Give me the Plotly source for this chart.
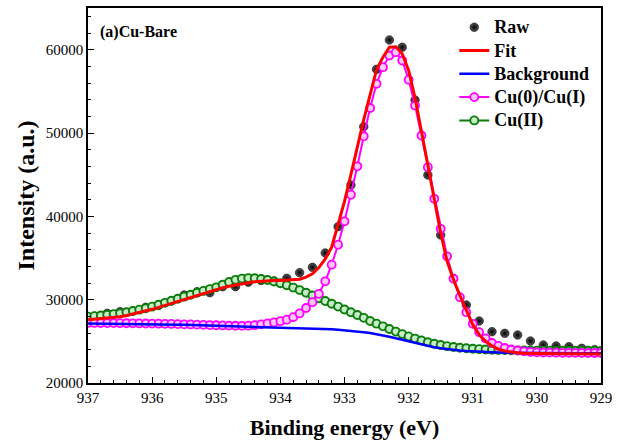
import plotly.graph_objects as go

# ---------------- data ----------------
raw_energy = [936.9, 936.7, 936.5, 936.3, 936.1, 935.9, 935.7, 935.5, 935.3, 935.1,
              934.9, 934.7, 934.5, 934.3, 934.1, 933.9, 933.7, 933.5, 933.3, 933.1,
              932.9, 932.7, 932.5, 932.3, 932.1, 931.9, 931.7, 931.5, 931.3, 931.1,
              930.9, 930.7, 930.5, 930.3, 930.1, 929.9, 929.7, 929.5, 929.3, 929.1]
raw_intensity = [28000, 28360, 28560, 28640, 29080, 29300, 29850, 30560, 30950, 30840,
                 31560, 31560, 32100, 32300, 32250, 32560, 33240, 33880, 35600, 38760,
                 43760, 50760, 57640, 61160, 60280, 53960, 44960, 37760, 32560, 29360,
                 27440, 26160, 25960, 25760, 25040, 24560, 24440, 24360, 24160, 24000]

fit_energy = [937.0, 936.9, 936.8, 936.7, 936.6, 936.5, 936.4, 936.3, 936.2, 936.1,
              936.0, 935.9, 935.8, 935.7, 935.6, 935.5, 935.4, 935.3, 935.2, 935.1,
              935.0, 934.9, 934.8, 934.7, 934.6, 934.5, 934.4, 934.3, 934.2, 934.1,
              934.0, 933.9, 933.8, 933.7, 933.6, 933.5, 933.4, 933.3, 933.2, 933.1,
              933.0, 932.9, 932.8, 932.7, 932.6, 932.5, 932.4, 932.3, 932.2, 932.1,
              932.0, 931.9, 931.8, 931.7, 931.6, 931.5, 931.4, 931.3, 931.2, 931.1,
              931.0, 930.9, 930.8, 930.7, 930.6, 930.5, 930.4, 930.3, 930.2, 930.1,
              930.0, 929.9, 929.8, 929.7, 929.6, 929.5, 929.4, 929.3, 929.2, 929.1,
              929.0]

fit_total = [27600, 27660, 27730, 27800, 27880, 27960, 28110, 28280, 28460, 28650,
             28840, 29080, 29320, 29560, 29800, 30040, 30280, 30520, 30760, 31000,
             31240, 31430, 31600, 31760, 31900, 32040, 32140, 32220, 32270, 32290,
             32300, 32320, 32380, 32450, 32700, 33100, 33850, 34900, 36300, 38900,
             41800, 45000, 48400, 51600, 54600, 57600, 59100, 60300, 60350, 59500,
             57500, 54200, 50200, 46100, 42000, 38000, 34600, 32400, 30500, 28800,
             27000, 25800, 25000, 24450, 24080, 23850, 23700, 23620, 23570, 23540,
             23520, 23510, 23505, 23500, 23497, 23494, 23491, 23488, 23486, 23484,
             23482]

background = [27150, 27145, 27140, 27135, 27130, 27120, 27110, 27100, 27090, 27080,
              27070, 27055, 27040, 27025, 27005, 26985, 26965, 26945, 26920, 26895,
              26870, 26845, 26820, 26795, 26770, 26745, 26720, 26695, 26670, 26645,
              26620, 26600, 26580, 26560, 26540, 26520, 26500, 26475, 26445, 26400,
              26340, 26270, 26190, 26100, 25995, 25870, 25720, 25550, 25370, 25180,
              24990, 24800, 24620, 24450, 24300, 24170, 24060, 23970, 23900, 23840,
              23790, 23750, 23715, 23685, 23660, 23640, 23625, 23610, 23600, 23590,
              23585, 23580, 23577, 23574, 23571, 23568, 23566, 23564, 23562, 23561,
              23560]

cu0_cu1 = [27210, 27205, 27200, 27195, 27190, 27180, 27170, 27160, 27150, 27140,
           27130, 27115, 27100, 27085, 27065, 27045, 27025, 27005, 26980, 26955,
           26930, 26910, 26890, 26870, 26860, 26880, 26940, 27040, 27150, 27280,
           27420, 27600, 27900, 28350, 29000, 29700, 30700, 32200, 34200, 36600,
           39400, 42600, 46000, 49600, 53000, 55900, 57900, 59300, 59700, 58700,
           56400, 53300, 49700, 45900, 42100, 38500, 35200, 32500, 30300, 28500,
           27100, 26100, 25350, 24800, 24450, 24200, 24020, 23900, 23800, 23730,
           23680, 23660, 23645, 23635, 23625, 23618, 23612, 23607, 23603, 23600,
           23598]

cu2 = [27960, 28025, 28100, 28185, 28270, 28360, 28490, 28640, 28800, 28975,
       29160, 29385, 29620, 29865, 30110, 30360, 30595, 30825, 31050, 31270,
       31480, 31795, 32120, 32375, 32530, 32585, 32564, 32486, 32359, 32185,
       31969, 31722, 31446, 31147, 30832, 30506, 30176, 29841, 29506, 29167,
       28825, 28488, 28158, 27820, 27445, 27120, 26800, 26480, 26170, 25870,
       25590, 25330, 25095, 24885, 24705, 24555, 24425, 24320, 24235, 24165,
       24105, 24060, 24025, 23995, 23970, 23948, 23932, 23916, 23905, 23894,
       23888, 23882, 23879, 23875, 23872, 23868, 23866, 23864, 23862, 23861,
       23860]

series_names = ["Raw", "Fit", "Background", "Cu(0)/Cu(I)", "Cu(II)"]
x_tick_vals = [937, 936, 935, 934, 933, 932, 931, 930, 929]
y_tick_vals = [20000, 30000, 40000, 50000, 60000]

FONT = "Times New Roman"


def legend_label(name):
    # rendered at 18px while the legend row spacing is computed from a smaller size
    return "<span style='font-size:18px'>" + name + "</span>"


fig = go.Figure()

fig.add_trace(go.Scatter(
    x=raw_energy, y=raw_intensity, mode="markers", name=legend_label(series_names[0]),
    legendrank=1,
    marker=dict(size=8.5, color="#5a5a5a",
                gradient=dict(type="radial", color="#000000"),
                line=dict(width=0.6, color="#000000")),
))
fig.add_trace(go.Scatter(
    x=fit_energy, y=cu2, mode="lines+markers", name=legend_label(series_names[4]),
    legendrank=5,
    line=dict(color="#0b7d0b", width=2),
    marker=dict(size=8, color="#c8ecc8",
                line=dict(width=1.9, color="#0b7d0b")),
))
fig.add_trace(go.Scatter(
    x=fit_energy, y=cu0_cu1, mode="lines+markers", name=legend_label(series_names[3]),
    legendrank=4,
    line=dict(color="#ff00ff", width=2),
    marker=dict(size=8, color="#ffc8ff",
                line=dict(width=1.8, color="#ff00ff")),
))
fig.add_trace(go.Scatter(
    x=fit_energy, y=background, mode="lines", name=legend_label(series_names[2]),
    legendrank=3,
    line=dict(color="#0000ff", width=2.5),
))
fig.add_trace(go.Scatter(
    x=fit_energy, y=fit_total, mode="lines", name=legend_label(series_names[1]),
    legendrank=2,
    line=dict(color="#ff0000", width=3),
))

axis_common = dict(
    showline=True, linecolor="black", linewidth=1.5, mirror=True,
    showgrid=False, zeroline=False,
    ticks="inside", tickcolor="black", tickwidth=1.2,
    tickfont=dict(family=FONT, size=15, color="black"),
)

fig.update_xaxes(
    **axis_common,
    range=[937, 929], tickmode="array", tickvals=x_tick_vals,
    ticktext=[str(v) for v in x_tick_vals], ticklen=6,
    minor=dict(ticks="inside", dtick=0.2, ticklen=3, tickcolor="black", tickwidth=1),
    title=dict(text="<b>Binding energy (eV)</b>", standoff=15,
               font=dict(family=FONT, size=22, color="black")),
)
fig.update_yaxes(
    **axis_common,
    range=[20000, 65000], tickmode="array", tickvals=y_tick_vals,
    ticktext=[str(v) for v in y_tick_vals], ticklen=6,
    minor=dict(ticks="inside", dtick=2000, tick0=20000, ticklen=3, tickcolor="black", tickwidth=1),
    title=dict(text="<b>Intensity (a.u.)</b>", standoff=4,
               font=dict(family=FONT, size=24, color="black")),
)

fig.add_annotation(
    x=0.02, y=0.935, xref="paper", yref="paper", xanchor="left", yanchor="middle",
    text="<b>(a)Cu-Bare</b>", showarrow=False,
    font=dict(family=FONT, size=16, color="black"),
)

fig.update_layout(
    template="none",
    font=dict(family=FONT, color="black"),
    width=627, height=446,
    margin=dict(l=88, r=26, t=8, b=63),
    paper_bgcolor="white", plot_bgcolor="white",
    showlegend=True,
    legend=dict(x=0.714, y=0.993, xanchor="left", yanchor="top",
                bgcolor="rgba(0,0,0,0)", borderwidth=0,
                font=dict(family=FONT, size=15.6, color="black", weight="bold"),
                tracegroupgap=0, itemwidth=30),
)

fig.write_html("out.html")
